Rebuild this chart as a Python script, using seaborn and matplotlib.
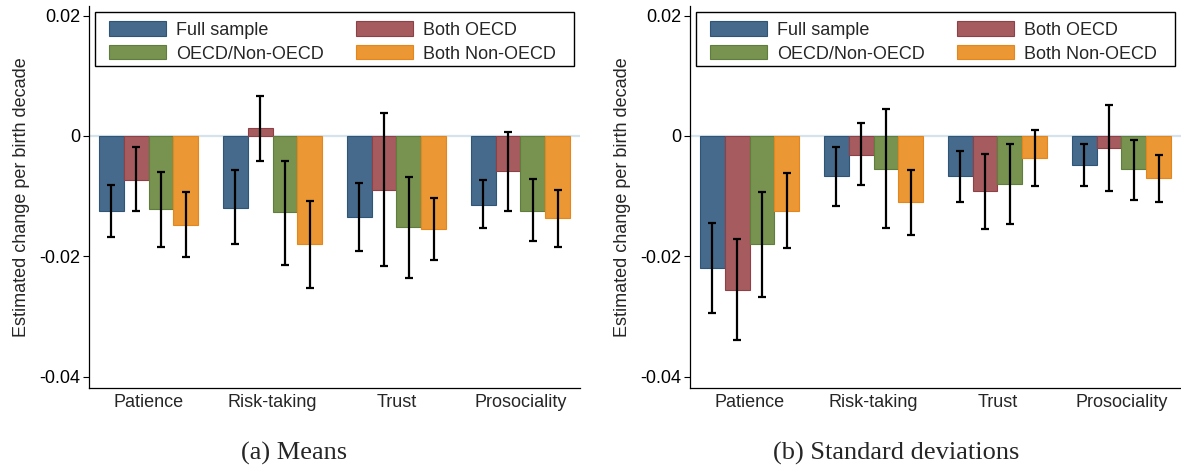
"""
Cambio estimado por década de nacimiento: medias y desviaciones estándar
"""

import matplotlib
matplotlib.use("Agg")
import matplotlib.pyplot as plt
import numpy as np
import pandas as pd
import seaborn as sns
from matplotlib.patches import Patch, Rectangle

# Datos
categorias = ["Patience", "Risk-taking", "Trust", "Prosociality"]
grupos = ["Full sample", "Both OECD", "OECD/Non-OECD", "Both Non-OECD"]

# (a) Medias: estimación, límite inferior y superior por grupo
medias_est = {
    "Full sample":   [-0.0125, -0.0119, -0.0135, -0.0114],
    "Both OECD":     [-0.0073,  0.0013, -0.0090, -0.0059],
    "OECD/Non-OECD": [-0.0122, -0.0126, -0.0152, -0.0124],
    "Both Non-OECD": [-0.0148, -0.0180, -0.0155, -0.0137],
}
medias_inf = {
    "Full sample":   [-0.0168, -0.0180, -0.0192, -0.0153],
    "Both OECD":     [-0.0125, -0.0041, -0.0217, -0.0124],
    "OECD/Non-OECD": [-0.0185, -0.0214, -0.0236, -0.0175],
    "Both Non-OECD": [-0.0202, -0.0252, -0.0206, -0.0184],
}
medias_sup = {
    "Full sample":   [-0.0081, -0.0057, -0.0079, -0.0073],
    "Both OECD":     [-0.0018,  0.0066,  0.0038,  0.0006],
    "OECD/Non-OECD": [-0.0060, -0.0041, -0.0068, -0.0071],
    "Both Non-OECD": [-0.0093, -0.0108, -0.0103, -0.0090],
}

# (b) Desviaciones estándar
desv_est = {
    "Full sample":   [-0.0219, -0.0067, -0.0067, -0.0049],
    "Both OECD":     [-0.0256, -0.0031, -0.0092, -0.0020],
    "OECD/Non-OECD": [-0.0180, -0.0055, -0.0080, -0.0055],
    "Both Non-OECD": [-0.0124, -0.0110, -0.0037, -0.0070],
}
desv_inf = {
    "Full sample":   [-0.0295, -0.0117, -0.0110, -0.0084],
    "Both OECD":     [-0.0340, -0.0082, -0.0154, -0.0091],
    "OECD/Non-OECD": [-0.0267, -0.0153, -0.0147, -0.0106],
    "Both Non-OECD": [-0.0186, -0.0164, -0.0084, -0.0109],
}
desv_sup = {
    "Full sample":   [-0.0145, -0.0018, -0.0025, -0.0013],
    "Both OECD":     [-0.0171,  0.0021, -0.0030,  0.0051],
    "OECD/Non-OECD": [-0.0093,  0.0044, -0.0014, -0.0006],
    "Both Non-OECD": [-0.0061, -0.0056,  0.0010, -0.0032],
}

ticks_y = [0.02, 0.0, -0.02, -0.04]
etiquetas_y = ["0.02", "0", "-0.02", "-0.04"]
titulos = ["(a) Means", "(b) Standard deviations"]

# Estilo
colores = ["#466a8c", "#a65b5f", "#78934f", "#ea9734"]
bordes = ["#2e5576", "#8f4047", "#5f7d3d", "#e4861c"]

sns.set_theme(style="white")
plt.rcParams["font.family"] = ["Liberation Sans", "DejaVu Sans"]


def tabla_larga(est, inf, sup):
    filas = []
    for g in grupos:
        for i, c in enumerate(categorias):
            filas.append({"trait": c, "group": g, "est": est[g][i],
                          "lo": inf[g][i], "hi": sup[g][i]})
    return pd.DataFrame(filas)


def dibujar_panel(ax, df):
    ax.axhline(0, color="#d5e3ec", lw=1.6, zorder=0.5)
    sns.barplot(data=df, x="trait", y="est", hue="group", order=categorias,
                hue_order=grupos, palette=colores, errorbar=None, width=0.8,
                saturation=1, legend=False, ax=ax, zorder=2)
    barras = list(ax.containers[:len(grupos)])
    for k, cont in enumerate(barras):
        sub = df[df["group"] == grupos[k]].set_index("trait").loc[categorias]
        xs = []
        for bar in cont:
            bar.set_edgecolor(bordes[k])
            bar.set_linewidth(0.8)
            xs.append(bar.get_x() + bar.get_width() / 2)
        est = sub["est"].to_numpy()
        yerr = np.vstack([est - sub["lo"].to_numpy(), sub["hi"].to_numpy() - est])
        ax.errorbar(xs, est, yerr=yerr, fmt="none", ecolor="black",
                    elinewidth=1.6, capsize=3.0, capthick=1.6, zorder=3)

    ax.set_xlim(-0.48, 3.48)
    ax.set_ylim(-0.0419, 0.0216)
    ax.set_yticks(ticks_y)
    ax.set_yticklabels(etiquetas_y)
    ax.set_xlabel("")
    ax.set_ylabel("Estimated change per birth decade", fontsize=13)
    ax.yaxis.set_label_coords(-0.12, 0.5)
    ax.tick_params(axis="y", direction="out", length=4.5, width=0.8,
                   pad=2, labelsize=13, left=True, colors="black")
    ax.tick_params(axis="x", length=0, pad=4, labelsize=13)
    sns.despine(ax=ax)
    for s in ["left", "bottom"]:
        ax.spines[s].set_color("black")
        ax.spines[s].set_linewidth(0.9)

    # recuadro de la leyenda (más ancho que su contenido, como en el original)
    ax.add_patch(Rectangle((0.0122, 0.843), 0.9756, 0.141, transform=ax.transAxes,
                           facecolor="white", edgecolor="black", lw=1.0,
                           zorder=4, clip_on=False))
    orden = [0, 2, 1, 3]
    manejadores = [Patch(facecolor=colores[i], edgecolor=bordes[i], lw=0.8,
                         label=grupos[i]) for i in orden]
    ley = ax.legend(handles=manejadores, ncol=2, loc="upper left",
                    bbox_to_anchor=(0.0224, 0.984),
                    frameon=False, fontsize=13,
                    handlelength=3.15, handleheight=0.85, handletextpad=0.55,
                    labelspacing=0.36, borderpad=0.5, borderaxespad=0,
                    columnspacing=1.8)
    ley.set_zorder(5)


fig = plt.figure(figsize=(11.81, 4.68), dpi=100)
ax1 = fig.add_axes([89 / 1181, 80 / 468, 491 / 1181, 382 / 468])
ax2 = fig.add_axes([690 / 1181, 80 / 468, 491 / 1181, 382 / 468])

dibujar_panel(ax1, tabla_larga(medias_est, medias_inf, medias_sup))
dibujar_panel(ax2, tabla_larga(desv_est, desv_inf, desv_sup))

fig.text(0.249, 0.031, titulos[0], ha="center", va="center", fontsize=19,
         family=["Liberation Serif", "DejaVu Serif"])
fig.text(0.759, 0.031, titulos[1], ha="center", va="center", fontsize=19,
         family=["Liberation Serif", "DejaVu Serif"])

fig.savefig("out.png", dpi=100)
